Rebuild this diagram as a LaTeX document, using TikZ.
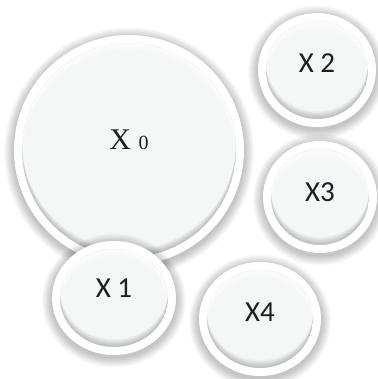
\documentclass[tikz,border=0pt]{standalone}
\usepackage{fontspec}
\setmainfont{Carlito}
\newfontfamily\serifface{Liberation Serif}
\definecolor{diskfill}{HTML}{F5F6F6}
\definecolor{labelink}{HTML}{1E1E1E}

% #1 name, #2 cx, #3 cy, #4 rx, #5 ry, #6 label y, #7 label
\newcommand\drawbubble[7]{%
  \begin{scope}[shift={(#2,#3)}]
    % soft drop shadow, heavier towards the bottom
    \foreach \k in {1,...,10}{
      \fill[black,opacity=0.024] (0,2.5) ellipse ({#4+\k*1.0} and {#5+\k*1.0});
    }
    % white rim
    \fill[white] (0,0) ellipse ({#4} and {#5});
    % inner disk
    \fill[diskfill] (0,0) ellipse ({#4-8} and {#5-8});
    \begin{scope}
      \clip (0,0) ellipse ({#4-8} and {#5-8});
      % inner shade along the lower edge
      \foreach \k in {1,...,10}{
        \fill[black,opacity=0.022,even odd rule]
          (0,0) ellipse ({#4-8} and {#5-8}) (0,-\k*0.8) ellipse ({#4-8} and {#5-8});
      }
      % highlight along the upper edge
      \foreach \k in {1,...,6}{
        \fill[white,opacity=0.2,even odd rule]
          (0,0) ellipse ({#4-8} and {#5-8}) (0,\k*1.3) ellipse ({#4-8} and {#5-8});
      }
    \end{scope}
  \end{scope}
  \node[lbl] (#1) at (#2,#6) {#7};
}

\begin{document}
\begin{tikzpicture}[x=1pt,y=-1pt,
  lbl/.style={inner sep=0pt,text=labelink,font=\fontsize{29}{29}\selectfont}]
  \useasboundingbox[fill=white] (0,0) rectangle (377,379);

  \drawbubble{x0}{129}{150}{115}{115}{140}{\serifface\fontsize{30}{30}\selectfont X {\fontsize{20}{20}\selectfont 0}}
  \drawbubble{x2}{317}{70}{59}{57}{63}{X 2}
  \drawbubble{x3}{320}{197}{57}{56}{192}{X3}
  \drawbubble{x1}{114}{298}{62}{57}{288}{X 1}
  \drawbubble{x4}{260}{319}{61}{57}{312}{X4}
\end{tikzpicture}
\end{document}
